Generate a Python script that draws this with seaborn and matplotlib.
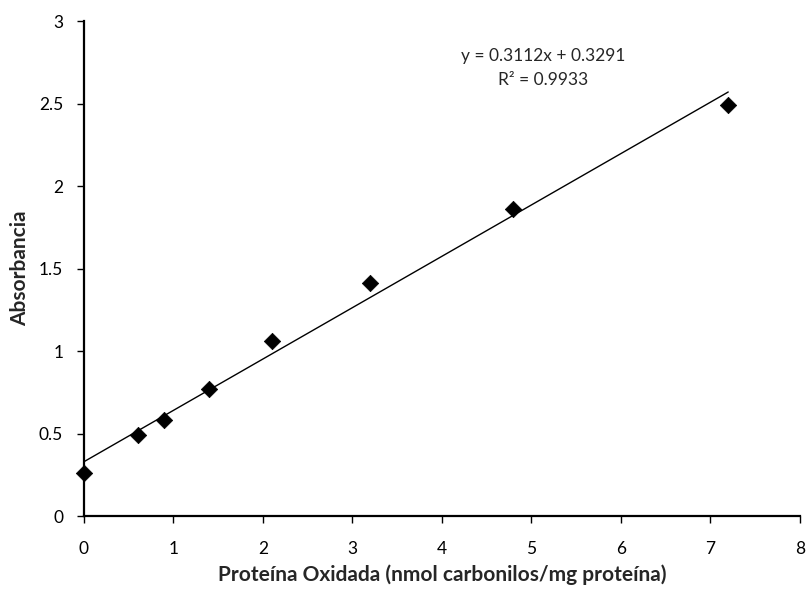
import numpy as np
import matplotlib
matplotlib.use("Agg")
import matplotlib.pyplot as plt
import seaborn as sns

# Calibration data: oxidised protein vs absorbance
proteina = [0.0, 0.6, 0.9, 1.4, 2.1, 3.2, 4.8, 7.2]
absorbancia = [0.26, 0.49, 0.58, 0.77, 1.06, 1.41, 1.86, 2.49]

# Linear trendline coefficients
pendiente = 0.3112
intercepto = 0.3291
r2 = 0.9933

x_ticks = [0, 1, 2, 3, 4, 5, 6, 7, 8]
y_ticks = [0, 0.5, 1, 1.5, 2, 2.5, 3]
y_tick_labels = ["0", "0.5", "1", "1.5", "2", "2.5", "3"]

sns.set_theme(style="white")
plt.rcParams["font.family"] = ["Lato", "DejaVu Sans"]

fig = plt.figure(figsize=(8.12, 5.9), dpi=100)
ax = fig.add_axes([0.1034, 0.1254, 0.8816, 0.839])

# Trendline over the data range
x_line = np.array([min(proteina), max(proteina)])
y_line = pendiente * x_line + intercepto
sns.lineplot(x=x_line, y=y_line, ax=ax, color="black", linewidth=1.0)

sns.scatterplot(x=proteina, y=absorbancia, ax=ax, marker="D", s=70,
                color="black", edgecolor="black", linewidth=0.5, zorder=3,
                clip_on=False)

ax.set_xlim(0, 8)
ax.set_ylim(0, 3)
ax.set_xticks(x_ticks)
ax.set_xticklabels([str(t) for t in x_ticks])
ax.set_yticks(y_ticks)
ax.set_yticklabels(y_tick_labels)

for side in ["top", "right"]:
    ax.spines[side].set_visible(False)
for side in ["left", "bottom"]:
    ax.spines[side].set_color("black")
    ax.spines[side].set_linewidth(1.6)

ax.tick_params(axis="both", which="major", direction="out", length=5,
               width=1.0, color="black", labelsize=12.5, labelcolor="black",
               bottom=True, left=True)
ax.tick_params(axis="x", pad=13)
ax.tick_params(axis="y", pad=10)

ax.set_xlabel("Proteína Oxidada (nmol carbonilos/mg proteína)",
              fontsize=15, fontweight="bold", labelpad=5)
ax.set_ylabel("Absorbancia", fontsize=15, fontweight="bold", labelpad=6)

ax.text(5.13, 2.79, f"y = {pendiente:.4f}x + {intercepto:.4f}",
        ha="center", va="center", fontsize=12.5)
ax.text(5.13, 2.64, f"R² = {r2:.4f}", ha="center", va="center", fontsize=12.5)

fig.savefig("out.png", dpi=100)
